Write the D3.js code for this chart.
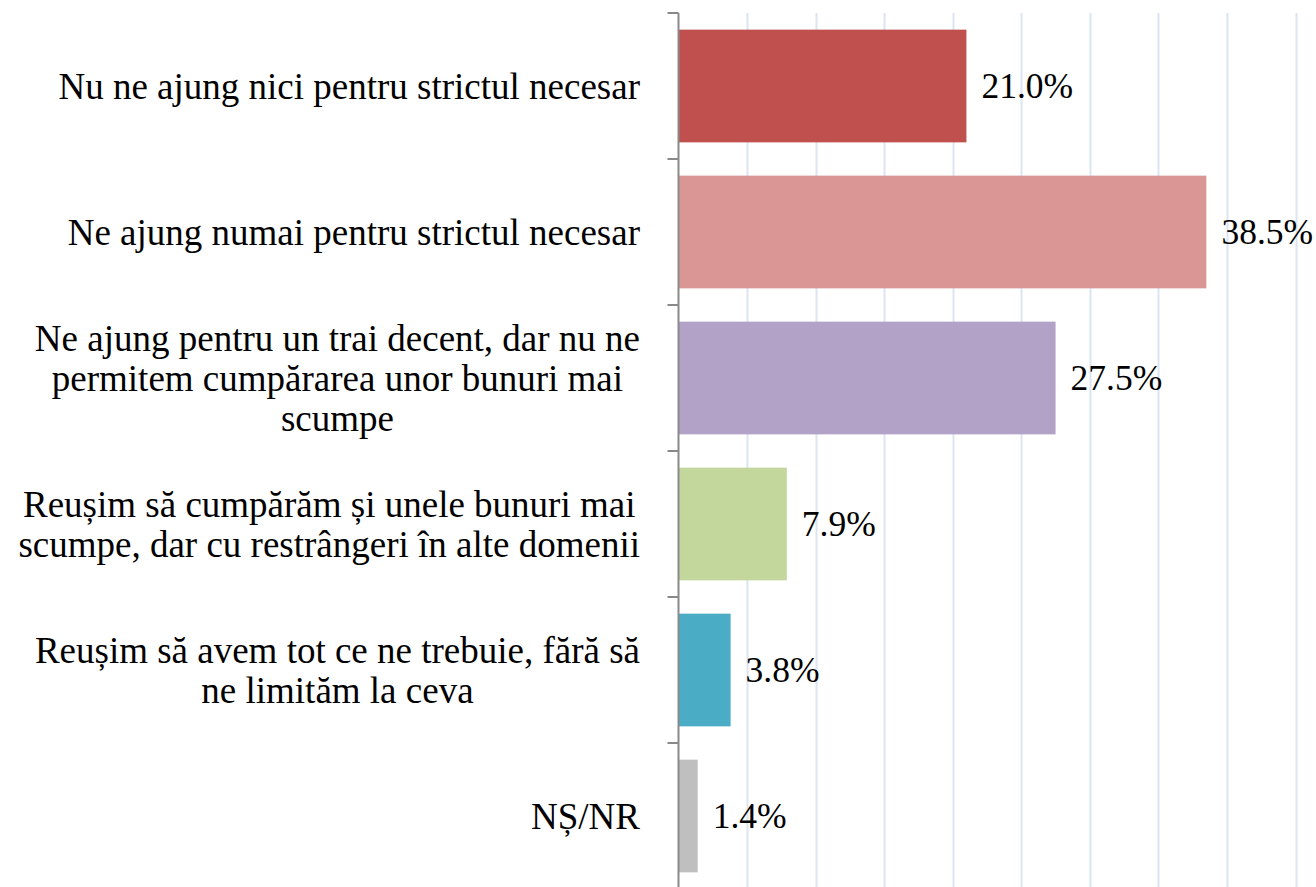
<!DOCTYPE html>
<html>
<head>
<meta charset="utf-8">
<script src="https://cdn.jsdelivr.net/npm/d3@7"></script>
</head>
<body style="margin:0">
<svg id="chart" width="1316" height="887"></svg>
<script>
// categories (already wrapped into lines as in the source chart)
var categories = [
  ["Nu ne ajung nici pentru strictul necesar"],
  ["Ne ajung numai pentru strictul necesar"],
  ["Ne ajung pentru un trai decent, dar nu ne", "permitem cumpărarea unor bunuri mai", "scumpe"],
  ["Reușim să cumpărăm și unele bunuri mai", "scumpe, dar cu restrângeri în alte domenii"],
  ["Reușim să avem tot ce ne trebuie, fără să", "ne limităm la ceva"],
  ["NȘ/NR"]
];
var values = [21.0, 38.5, 27.5, 7.9, 3.8, 1.4];
var colors = ["#C0504D", "#D99694", "#B2A2C7", "#C3D69B", "#4BACC6", "#BFBFBF"];
var gridTicks = [5, 10, 15, 20, 25, 30, 35, 40, 45];

window.onload = function(){
  var svg = d3.select("#chart");
  var keys = categories.map(function(d, i){ return i; });
  var serif = "'Liberation Serif', 'Times New Roman', Times, serif";

  var x = d3.scaleLinear().domain([0, 45]).range([678.5, 1295.5]);
  var yBand = d3.scaleBand().domain(keys).range([13, 889]);
  var yBar = d3.scaleBand().domain(keys).range([13, 889]).paddingInner(0.228).paddingOuter(0.114);

  // gridlines
  svg.append("g").selectAll("line")
    .data(gridTicks)
    .enter().append("line")
      .attr("x1", function(d){ return Math.round(x(d)) + 0.5; })
      .attr("x2", function(d){ return Math.round(x(d)) + 0.5; })
      .attr("y1", 13)
      .attr("y2", 887)
      .attr("stroke", "#DCE4F2")
      .attr("stroke-width", 2);

  // bars
  svg.append("g").selectAll("rect")
    .data(values)
    .enter().append("rect")
      .attr("x", x(0))
      .attr("y", function(d, i){ return yBar(i); })
      .attr("width", function(d){ return x(d) - x(0); })
      .attr("height", yBar.bandwidth())
      .attr("fill", function(d, i){ return colors[i]; });

  // category axis
  var ax = svg.append("g").attr("stroke", "#898989").attr("stroke-width", 2);
  ax.append("line").attr("x1", x(0)).attr("x2", x(0)).attr("y1", 13).attr("y2", 887);
  ax.selectAll(".tk")
    .data(keys.concat([keys.length]))
    .enter().append("line")
      .attr("class", "tk")
      .attr("x1", x(0) - 11).attr("x2", x(0))
      .attr("y1", function(d){ return 13 + d * yBand.step(); })
      .attr("y2", function(d){ return 13 + d * yBand.step(); });

  // category labels: block right aligned to axis, lines centered inside the block
  var lineH = 40;
  var labels = svg.append("g");
  categories.forEach(function(lines, i){
    var g = labels.append("g");
    var cy = yBand(i) + yBand.bandwidth() / 2;
    var t = g.selectAll("text").data(lines).enter().append("text")
      .style("font-family", serif, "important")
      .style("font-size", "37px")
      .attr("dy", "0.35em")
      .attr("y", function(d, j){ return cy + (j - (lines.length - 1) / 2) * lineH; })
      .text(function(d){ return d; });
    var maxW = d3.max(t.nodes(), function(n){ return n.getComputedTextLength(); });
    var right = 640;
    t.attr("text-anchor", "middle").attr("x", right - maxW / 2);
  });

  // value labels
  svg.append("g").selectAll("text")
    .data(values)
    .enter().append("text")
      .style("font-family", serif, "important")
      .style("font-size", "35.5px")
      .attr("x", function(d){ return x(d) + 15; })
      .attr("y", function(d, i){ return yBar(i) + yBar.bandwidth() / 2; })
      .attr("dy", "0.35em")
      .text(function(d){ return d.toFixed(1) + "%"; });
};
</script>
</body>
</html>
